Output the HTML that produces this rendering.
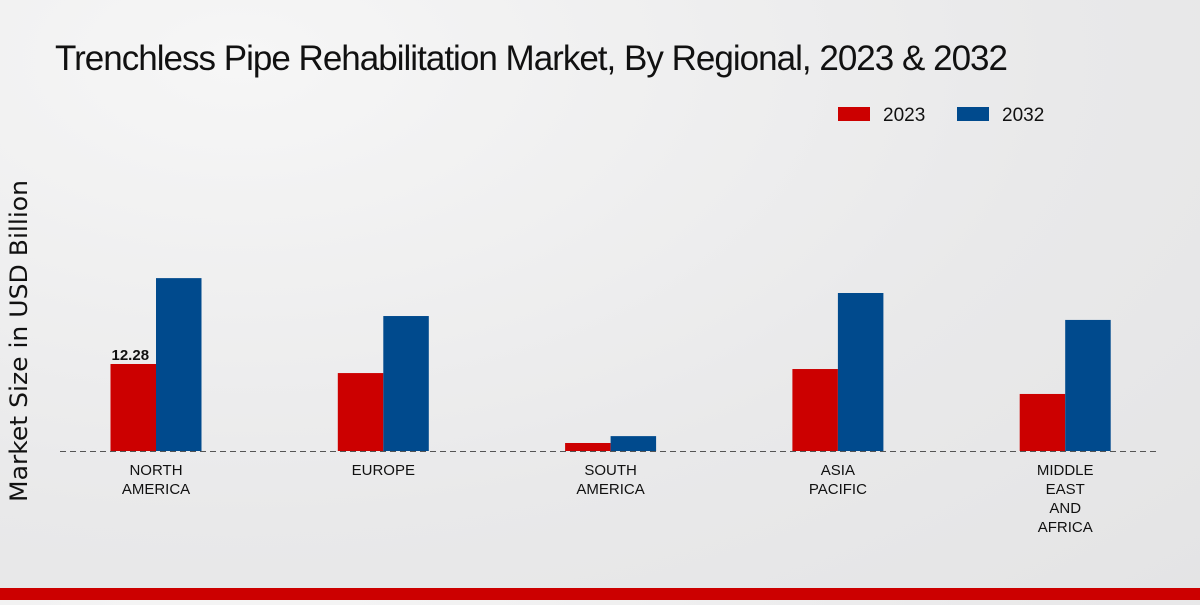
<!DOCTYPE html>
<html><head><meta charset="utf-8">
<style>
html,body{margin:0;padding:0;}
body{width:1200px;height:600px;overflow:hidden;background:radial-gradient(ellipse at 20% 10%,#f6f6f6 0%,#e9e9ea 60%,#e4e4e5 100%);font-family:"Liberation Sans Narrow","Liberation Sans",sans-serif;}
</style></head>
<body>
<svg width="1200" height="600" xmlns="http://www.w3.org/2000/svg">
<text x="55" y="70" font-size="35" fill="#111" font-family="Liberation Sans Narrow, Liberation Sans, sans-serif" textLength="953">Trenchless Pipe Rehabilitation Market, By Regional, 2023 &amp; 2032</text>
<g>
<rect x="838" y="107" width="32" height="14" fill="#cc0000"/>
<text x="883" y="121" font-size="19" fill="#111">2023</text>
<rect x="957" y="107" width="32" height="14" fill="#004a8d"/>
<text x="1002" y="121" font-size="19" fill="#111">2032</text>
</g>
<text transform="translate(27,341) rotate(-90)" text-anchor="middle" font-size="24" fill="#111" font-family="DejaVu Sans, sans-serif" textLength="322" lengthAdjust="spacingAndGlyphs">Market Size in USD Billion</text>
<line x1="60" y1="451.5" x2="1160" y2="451.5" stroke="#555" stroke-dasharray="6,4" stroke-width="1"/>
<g id="bars"></g>
<g id="labels"></g>
<rect x="0" y="588" width="1200" height="12" fill="#cc0000"/>
</svg>
<script>
const categories=[["NORTH","AMERICA"],["EUROPE"],["SOUTH","AMERICA"],["ASIA","PACIFIC"],["MIDDLE","EAST","AND","AFRICA"]];
const values2023=[12.28,11.0,1.13,11.57,8.05];
const values2032=[24.4,19.05,2.1,22.3,18.5];
const ns="http://www.w3.org/2000/svg";
const baseY=451, pxPerUnit=7.085, firstC=156, step=227.3, bw=45.5;
const yScale=v=>baseY-v*pxPerUnit;
const xCenter=i=>firstC+i*step;
const bars=document.getElementById('bars'), labels=document.getElementById('labels');
function bar(x,v,color,name){
  const r=document.createElementNS(ns,'rect');
  r.setAttribute('x',x);r.setAttribute('y',yScale(v));
  r.setAttribute('width',bw);r.setAttribute('height',baseY-yScale(v));
  r.setAttribute('fill',color);
  
  
  bars.appendChild(r);
}
categories.forEach((c,i)=>{
  const cx=xCenter(i);
  bar(cx-bw,values2023[i],'#cc0000','bar-2023-'+i);
  bar(cx,values2032[i],'#004a8d','bar-2032-'+i);
  c.forEach((line,j)=>{
    const t=document.createElementNS(ns,'text');
    t.setAttribute('x',cx);t.setAttribute('y',475+j*19);
    t.setAttribute('text-anchor','middle');t.setAttribute('font-size','15');t.setAttribute('fill','#111');
    t.textContent=line;
    
    
    labels.appendChild(t);
  });
});
const vl=document.createElementNS(ns,'text');
vl.setAttribute('x',xCenter(0)-bw+1);vl.setAttribute('y',yScale(values2023[0])-4);
vl.setAttribute('font-size','15');vl.setAttribute('font-weight','bold');vl.setAttribute('fill','#111');
vl.textContent=values2023[0].toFixed(2);


labels.appendChild(vl);
</script>
</body></html>
